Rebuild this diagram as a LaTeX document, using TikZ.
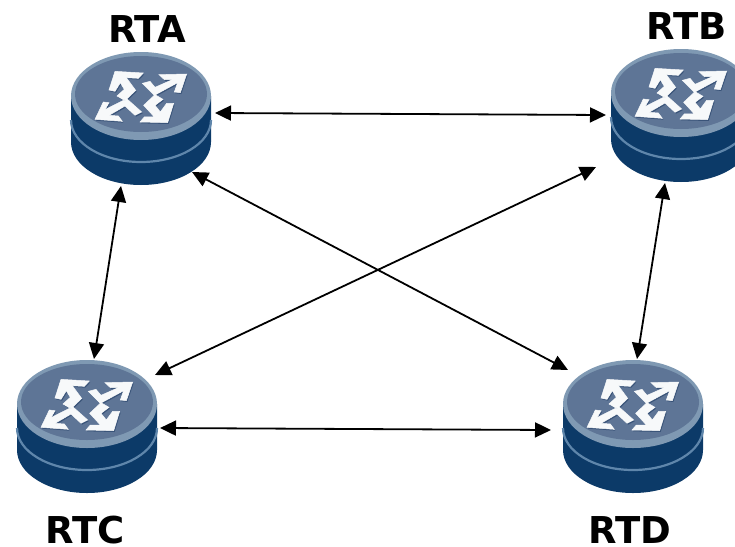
\documentclass[tikz,border=0pt]{standalone}
\usepackage{fontspec}
\setmainfont{DejaVu Sans}
\usetikzlibrary{arrows.meta}
\definecolor{rbody}{HTML}{0C3A68}
\definecolor{rband}{HTML}{5F86AB}
\definecolor{rrim}{HTML}{7F99B3}
\definecolor{rface}{HTML}{5E7596}
\definecolor{rshadow}{HTML}{3A5479}
\newcommand{\iconshapes}{%
  (305,36)--(222,38)--(238,53)--(262,53)--(210,76)--(195,58)--(172,64)--(208,100)--(278,62)--(268,90)--(286,92)--cycle
  (90,28)--(175,33)--(160,49)--(124,47)--(152,85)--(120,116)--(96,102)--(118,82)--(106,62)--(90,88)--(72,84)--cycle
  (30,172)--(112,178)--(100,162)--(72,160)--(120,132)--(150,160)--(170,150)--(125,110)--(60,143)--(72,122)--(55,120)--cycle
  (248,182)--(165,180)--(178,165)--(208,165)--(176,130)--(210,98)--(234,112)--(210,130)--(226,150)--(245,124)--(266,124)--cycle}
\tikzset{
  x=1pt,y=-1pt,
  routerpic/.pic={
    \fill[rbody] (-70,4) -- (-70,50) arc[start angle=180,end angle=0,x radius=70,y radius=43] -- (70,4) -- cycle;
    \draw[rband,line width=2.2] (-70,28) arc[start angle=180,end angle=0,x radius=70,y radius=42];
    \fill[rrim] (0,4) ellipse[x radius=70,y radius=44];
    \fill[rface] (0,2) ellipse[x radius=66,y radius=38];
    \begin{scope}[x=0.3333pt,y=-0.3333pt,shift={(-168,-90)}]
      \fill[rshadow,shift={(3,4)}] \iconshapes;
      \filldraw[white!94!rrim,line width=0.5pt] \iconshapes;
    \end{scope}
  },
  routerbox/.style={minimum width=142pt,minimum height=134pt,inner sep=0pt,outer sep=0pt},
  rlabel/.style={font=\fontsize{37}{40}\selectfont\bfseries,inner sep=0pt,text=black},
  link/.style={{Triangle[length=16pt,width=15pt]}-{Triangle[length=16pt,width=15pt]},line width=1.8pt,black}
}
\begin{document}
\begin{tikzpicture}
\useasboundingbox (0,0) rectangle (735,546);
\clip (0,0) rectangle (735,546);
\fill[white] (0,0) rectangle (735,546);
\pic at (141,92) {routerpic};
\pic at (681,89) {routerpic};
\pic at (87,400) {routerpic};
\pic at (633,400) {routerpic};
\node[routerbox] (A) at (141,118) {};
\node[routerbox] (B) at (681,115) {};
\node[routerbox] (C) at (87,427) {};
\node[routerbox] (D) at (633,427) {};
\node[rlabel] (la) at (147,29) {RTA};
\node[rlabel] (lb) at (687,26) {RTB};
\node[rlabel] (lc) at (85,530) {RTC};
\node[rlabel] (ld) at (630,530) {RTD};
\draw[link] ([shift={(3,-5)}]A.east) -- ([shift={(-4,0)}]B.west);
\draw[link] ([shift={(-20,1)}]A.south) -- ([shift={(7,-1)}]C.north);
\draw[link] ([shift={(-20,-13)}]A.south east) -- ([shift={(6,10)}]D.north west);
\draw[link] ([shift={(-14,-15)}]B.south west) -- ([shift={(-3,15)}]C.north east);
\draw[link] ([shift={(-16,1)}]B.south) -- ([shift={(4,-1)}]D.north);
\draw[link] ([shift={(2,1)}]C.east) -- ([shift={(-11,3)}]D.west);
\end{tikzpicture}
\end{document}
